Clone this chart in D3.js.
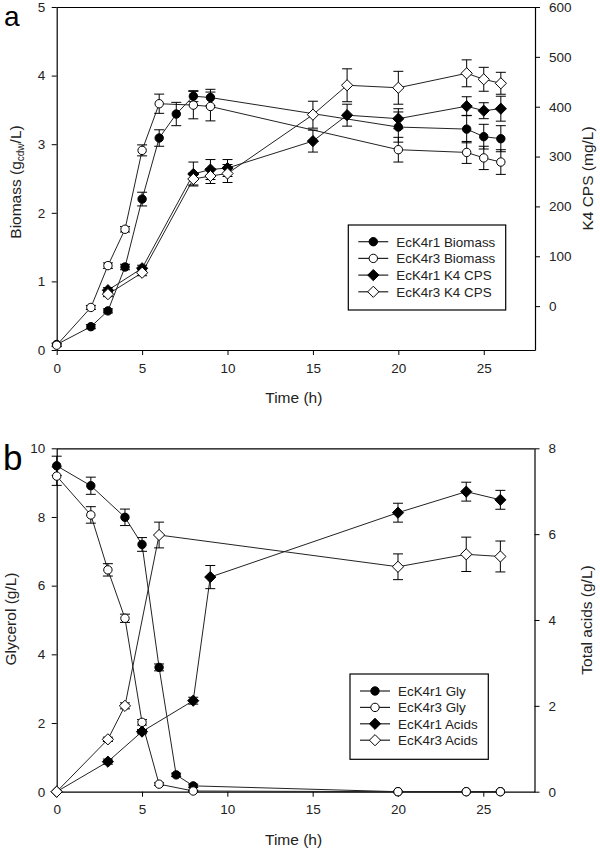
<!DOCTYPE html>
<html><head><meta charset="utf-8">
<script src="https://cdn.jsdelivr.net/npm/d3@7"></script>
<style>body{margin:0;background:#fff}svg{display:block}text{font-family:"Liberation Sans",Arial,sans-serif}</style>
</head><body><svg id="c" width="600" height="849"></svg>
<script>
// ---------- Panel a data ----------
const xTicks = [0, 5, 10, 15, 20, 25];
const biomassTicks = [0, 1, 2, 3, 4, 5];
const cpsTicks = [0, 100, 200, 300, 400, 500, 600];

const bioTimes1 = [0, 2, 3, 4, 5, 6, 7, 8, 9, 20, 24, 25, 26];
const ecK4r1Biomass = [0.08, 0.34, 0.57, 1.21, 2.20, 3.09, 3.44, 3.70, 3.68, 3.25, 3.22, 3.11, 3.08];
const ecK4r1BiomassErr = [0.02, 0.03, 0.03, 0.04, 0.10, 0.12, 0.17, 0.08, 0.12, 0.22, 0.20, 0.18, 0.19];

const bioTimes3 = [0, 2, 3, 4, 5, 6, 8, 9, 20, 24, 25, 26];
const ecK4r3Biomass = [0.07, 0.62, 1.23, 1.76, 2.91, 3.59, 3.57, 3.55, 2.92, 2.88, 2.80, 2.74];
const ecK4r3BiomassErr = [0.02, 0.03, 0.04, 0.04, 0.08, 0.14, 0.20, 0.21, 0.18, 0.16, 0.17, 0.18];

const cpsTimes = [3, 5, 8, 9, 10, 15, 17, 20, 24, 25, 26];
const ecK4r1Cps = [32, 76, 265, 274, 277, 331, 383, 376, 401, 392, 396];
const ecK4r1CpsErr = [5, 6, 24, 20, 17, 22, 22, 20, 19, 16, 25];
const ecK4r3Cps = [24, 67, 255, 261, 266, 384, 443, 438, 467, 455, 447];
const ecK4r3CpsErr = [5, 6, 12, 15, 18, 27, 33, 33, 27, 24, 22];

// ---------- Panel b data ----------
const glyTicks = [0, 2, 4, 6, 8, 10];
const acidTicks = [0, 2, 4, 6, 8];

const glyTimes1 = [0, 2, 4, 5, 6, 7, 8, 20, 24, 26];
const ecK4r1Gly = [9.49, 8.91, 7.99, 7.20, 3.62, 0.49, 0.17, 0, 0, 0];
const ecK4r1GlyErr = [0.28, 0.25, 0.24, 0.20, 0.10, 0.05, 0.05, 0, 0, 0];

const glyTimes3 = [0, 2, 3, 4, 5, 6, 8, 20, 24, 26];
const ecK4r3Gly = [9.19, 8.06, 6.46, 5.05, 2.02, 0.22, 0.02, 0, 0, 0];
const ecK4r3GlyErr = [0.27, 0.24, 0.18, 0.12, 0.08, 0.04, 0.02, 0, 0, 0];

const acidTimes1 = [0, 3, 5, 8, 9, 20, 24, 26];
const ecK4r1Acids = [0, 0.70, 1.40, 2.12, 5.00, 6.50, 6.99, 6.80];
const ecK4r1AcidsErr = [0, 0.06, 0.05, 0.08, 0.27, 0.22, 0.22, 0.22];

const acidTimes3 = [0, 3, 4, 6, 20, 24, 26];
const ecK4r3Acids = [0, 1.22, 2.00, 5.98, 5.24, 5.53, 5.48];
const ecK4r3AcidsErr = [0, 0.05, 0.07, 0.30, 0.30, 0.40, 0.36];

const legendA = ["EcK4r1 Biomass", "EcK4r3 Biomass", "EcK4r1 K4 CPS", "EcK4r3 K4 CPS"];
const legendB = ["EcK4r1 Gly", "EcK4r3 Gly", "EcK4r1 Acids", "EcK4r3 Acids"];

// ---------- drawing ----------
const svg = d3.select("#c");
const LINE = "#222";
const TICKFONT = 13.5;
const fmt = d3.format("d");

function diamondPath(s) { return `M0,${-s}L${s},0L0,${s}L${-s},0Z`; }

function drawMarker(g, type, filled) {
  if (type === "circle") {
    g.append("circle").attr("r", 4.2)
      .attr("fill", filled ? "#000" : "#fff").attr("stroke", "#000").attr("stroke-width", 1);
  } else {
    g.append("path").attr("d", diamondPath(5.6))
      .attr("fill", filled ? "#000" : "#fff").attr("stroke", "#000").attr("stroke-width", 1);
  }
}

function drawPanel(cfg) {
  const {left, right, top, bottom} = cfg;
  const x = d3.scaleLinear().domain([0, 28]).range([left, right]);
  const yL = d3.scaleLinear().domain(cfg.leftDomain).range([bottom, top]);
  const yR = d3.scaleLinear().domain(cfg.rightDomain).range([bottom, top]);
  const g = svg.append("g");

  // top border
  g.append("line").attr("x1", left).attr("x2", right).attr("y1", top + 0.5).attr("y2", top + 0.5)
    .attr("stroke", "#000").attr("stroke-width", 1.2);

  const styleAxis = sel => {
    sel.selectAll("path.domain").attr("stroke", "#000").attr("stroke-width", 1.2);
    sel.selectAll(".tick line").attr("stroke", "#000");
    sel.selectAll("text").attr("font-size", TICKFONT).attr("fill", "#222")
      .style("font-family", '"Liberation Sans", Arial, sans-serif');
  };

  g.append("g").attr("transform", `translate(0,${bottom})`)
    .call(d3.axisBottom(x).tickValues(xTicks).tickFormat(fmt).tickSize(5).tickSizeOuter(0).tickPadding(8))
    .call(styleAxis);
  g.append("g").attr("transform", `translate(${left},0)`)
    .call(d3.axisLeft(yL).tickValues(cfg.leftTicks).tickFormat(fmt).tickSize(5).tickSizeOuter(0).tickPadding(6.5))
    .call(styleAxis);
  g.append("g").attr("transform", `translate(${right},0)`)
    .call(d3.axisRight(yR).tickValues(cfg.rightTicks).tickFormat(fmt).tickSize(5).tickSizeOuter(0).tickPadding(9))
    .call(styleAxis);

  // series
  cfg.series.forEach(s => {
    const y = s.axis === "left" ? yL : yR;
    const pts = s.t.map((t, i) => ({t, v: s.v[i], e: s.e[i]}));
    const line = d3.line().x(d => x(d.t)).y(d => y(d.v));
    g.append("path").attr("d", line(pts)).attr("fill", "none").attr("stroke", LINE).attr("stroke-width", 1);
  });
  cfg.series.forEach(s => {
    const y = s.axis === "left" ? yL : yR;
    const pts = s.t.map((t, i) => ({t, v: s.v[i], e: s.e[i]}));
    pts.filter(d => d.e > 0).forEach(d => {
      const cx = x(d.t), y1 = y(d.v + d.e), y2 = y(d.v - d.e);
      const eb = g.append("g").attr("stroke", "#000").attr("stroke-width", 1);
      eb.append("line").attr("x1", cx).attr("x2", cx).attr("y1", y1).attr("y2", y2);
      eb.append("line").attr("x1", cx - 5).attr("x2", cx + 5).attr("y1", y1).attr("y2", y1);
      eb.append("line").attr("x1", cx - 5).attr("x2", cx + 5).attr("y1", y2).attr("y2", y2);
    });
    pts.forEach(d => {
      const m = g.append("g").attr("transform", `translate(${x(d.t)},${y(d.v)})`);
      drawMarker(m, s.marker, s.filled);
    });
  });

  // axis titles
  g.append("text").attr("x", (left + right) / 2 - 2).attr("y", bottom + 53)
    .attr("text-anchor", "middle").attr("font-size", 15.5).attr("fill", "#222").text("Time (h)");
  cfg.leftTitle(g);
  cfg.rightTitle(g);

  // legend
  const L = cfg.legend;
  g.append("rect").attr("x", L.x).attr("y", L.y).attr("width", L.w).attr("height", L.h)
    .attr("fill", "#fff").attr("stroke", "#000").attr("stroke-width", 1.2);
  cfg.series.forEach((s, i) => {
    const cy = L.y + L.first + i * L.step;
    g.append("line").attr("x1", L.x + 10).attr("x2", L.x + 40).attr("y1", cy).attr("y2", cy)
      .attr("stroke", LINE).attr("stroke-width", 1.2);
    const m = g.append("g").attr("transform", `translate(${L.x + 25},${cy})`);
    drawMarker(m, s.marker, s.filled);
    g.append("text").attr("x", L.x + 48).attr("y", cy + 4.8).attr("font-size", 13.4).attr("fill", "#222")
      .text(L.labels[i]);
  });

  // panel letter
  g.append("text").attr("x", cfg.letterX).attr("y", cfg.letterY).attr("font-size", cfg.letterSize)
    .attr("fill", "#000").text(cfg.letter);
}

drawPanel({
  left: 56.7, right: 535, top: 7, bottom: 350,
  leftDomain: [0, 5], rightDomain: [-88, 600],
  leftTicks: biomassTicks, rightTicks: cpsTicks,
  series: [
    {t: bioTimes1, v: ecK4r1Biomass, e: ecK4r1BiomassErr, axis: "left", marker: "circle", filled: true},
    {t: bioTimes3, v: ecK4r3Biomass, e: ecK4r3BiomassErr, axis: "left", marker: "circle", filled: false},
    {t: cpsTimes, v: ecK4r1Cps, e: ecK4r1CpsErr, axis: "right", marker: "diamond", filled: true},
    {t: cpsTimes, v: ecK4r3Cps, e: ecK4r3CpsErr, axis: "right", marker: "diamond", filled: false}
  ],
  leftTitle: g => {
    const t = g.append("text").attr("transform", "translate(20.5,182) rotate(-90)")
      .attr("text-anchor", "middle").attr("font-size", 15.5).attr("fill", "#222");
    t.append("tspan").text("Biomass (g");
    t.append("tspan").attr("font-size", 10).attr("dy", 3).text("cdw");
    t.append("tspan").attr("dy", -3).text("/L)");
  },
  rightTitle: g => {
    g.append("text").attr("transform", "translate(592.5,178.5) rotate(-90)")
      .attr("text-anchor", "middle").attr("font-size", 15.5).attr("fill", "#222").text("K4 CPS (mg/L)");
  },
  legend: {x: 348.3, y: 225, w: 157.4, h: 85, first: 16.7, step: 16.7, labels: legendA},
  letter: "a", letterX: 4, letterY: 25.5, letterSize: 28
});

drawPanel({
  left: 56.7, right: 534.5, top: 448.3, bottom: 791.7,
  leftDomain: [0, 10], rightDomain: [0, 8],
  leftTicks: glyTicks, rightTicks: acidTicks,
  series: [
    {t: glyTimes1, v: ecK4r1Gly, e: ecK4r1GlyErr, axis: "left", marker: "circle", filled: true},
    {t: glyTimes3, v: ecK4r3Gly, e: ecK4r3GlyErr, axis: "left", marker: "circle", filled: false},
    {t: acidTimes1, v: ecK4r1Acids, e: ecK4r1AcidsErr, axis: "right", marker: "diamond", filled: true},
    {t: acidTimes3, v: ecK4r3Acids, e: ecK4r3AcidsErr, axis: "right", marker: "diamond", filled: false}
  ],
  leftTitle: g => {
    g.append("text").attr("transform", "translate(15.5,619) rotate(-90)")
      .attr("text-anchor", "middle").attr("font-size", 15.5).attr("fill", "#222").text("Glycerol (g/L)");
  },
  rightTitle: g => {
    g.append("text").attr("transform", "translate(591.5,620) rotate(-90)")
      .attr("text-anchor", "middle").attr("font-size", 15.5).attr("fill", "#222").text("Total acids (g/L)");
  },
  legend: {x: 350, y: 674, w: 138.3, h: 85.3, first: 17, step: 16.4, labels: legendB},
  letter: "b", letterX: 3, letterY: 470, letterSize: 35
});
</script>
</body></html>
